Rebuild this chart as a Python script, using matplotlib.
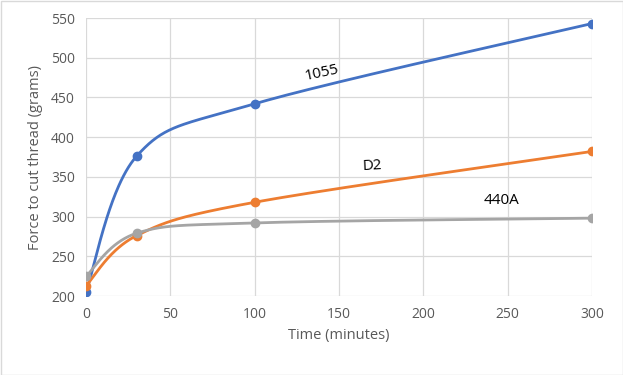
import numpy as np
import matplotlib
matplotlib.use("Agg")
import matplotlib.pyplot as plt
from matplotlib.patches import Rectangle

time_min = [0, 30, 100, 300]
s1055 = [205, 376, 442, 543]
sD2 = [213, 276, 318, 382]
s440A = [225, 279, 292, 298]
series_names = ["1055", "D2", "440A"]
colors = ["#4472C4", "#ED7D31", "#A5A5A5"]

XMIN, XMAX, YMIN, YMAX = 0, 300, 200, 550

plt.rcParams['font.family'] = ['Open Sans', 'DejaVu Sans']
fig = plt.figure(figsize=(6.23, 3.75), dpi=100)
ax = fig.add_axes([86/623, 1-296/375, (592-86)/623, (296-18)/375])

# Excel-like smoothed line (Catmull-Rom Bezier in display-normalised space)
W, H = 506.0, 278.0
def smooth(xs, ys, n=60):
    px = np.array([(x - XMIN)/(XMAX - XMIN)*W for x in xs])
    py = np.array([(y - YMIN)/(YMAX - YMIN)*H for y in ys])
    P = np.column_stack([px, py])
    out = []
    m = len(P)
    for i in range(m-1):
        p0 = P[i-1] if i > 0 else P[i]
        p1 = P[i]
        p2 = P[i+1]
        p3 = P[i+2] if i+2 < m else P[i+1]
        c1 = p1 + (p2 - p0)/6.0
        c2 = p2 - (p3 - p1)/6.0
        t = np.linspace(0, 1, n)[:, None]
        b = (1-t)**3*p1 + 3*(1-t)**2*t*c1 + 3*(1-t)*t**2*c2 + t**3*p2
        out.append(b if i == 0 else b[1:])
    B = np.vstack(out)
    return XMIN + B[:, 0]/W*(XMAX-XMIN), YMIN + B[:, 1]/H*(YMAX-YMIN)

for ys, c in zip([s1055, sD2, s440A], colors):
    sx, sy = smooth(time_min, ys)
    ax.plot(sx, sy, color=c, lw=2.0, zorder=3, solid_capstyle='round')
    ax.plot(time_min, ys, 'o', color=c, ms=6, zorder=4)

ax.set_xlim(XMIN, XMAX)
ax.set_ylim(YMIN, YMAX)
ax.set_xticks(np.arange(0, 301, 50))
ax.set_yticks(np.arange(200, 551, 50))
ax.grid(True, color="#D9D9D9", lw=0.9)
ax.set_axisbelow(True)
for s in ax.spines.values():
    s.set_visible(False)
ax.tick_params(length=0, labelsize=10, colors="#595959", pad=8)
ax.set_xlabel("Time (minutes)", fontsize=10.5, color="#595959", labelpad=4)
ax.set_ylabel("Force to cut thread (grams)", fontsize=10.5, color="#595959", labelpad=6)

def px2data(x, y):
    return XMIN + (x-86)/506*(XMAX-XMIN), YMAX - (y-18)/278*(YMAX-YMIN)
for name, (x, y), rot in zip(series_names, [(322, 73), (372, 166), (502, 200)], [12, 3, 0]):
    dx, dy = px2data(x, y)
    ax.text(dx, dy, name, fontsize=11, color="black", rotation=rot,
            ha='center', va='center', rotation_mode='anchor')

fig.add_artist(Rectangle((0.5/623, 0.5/375), 1-1/623, 1-1/375, transform=fig.transFigure,
                         fill=False, edgecolor="#D9D9D9", lw=1))
fig.savefig("out.png", dpi=100)
